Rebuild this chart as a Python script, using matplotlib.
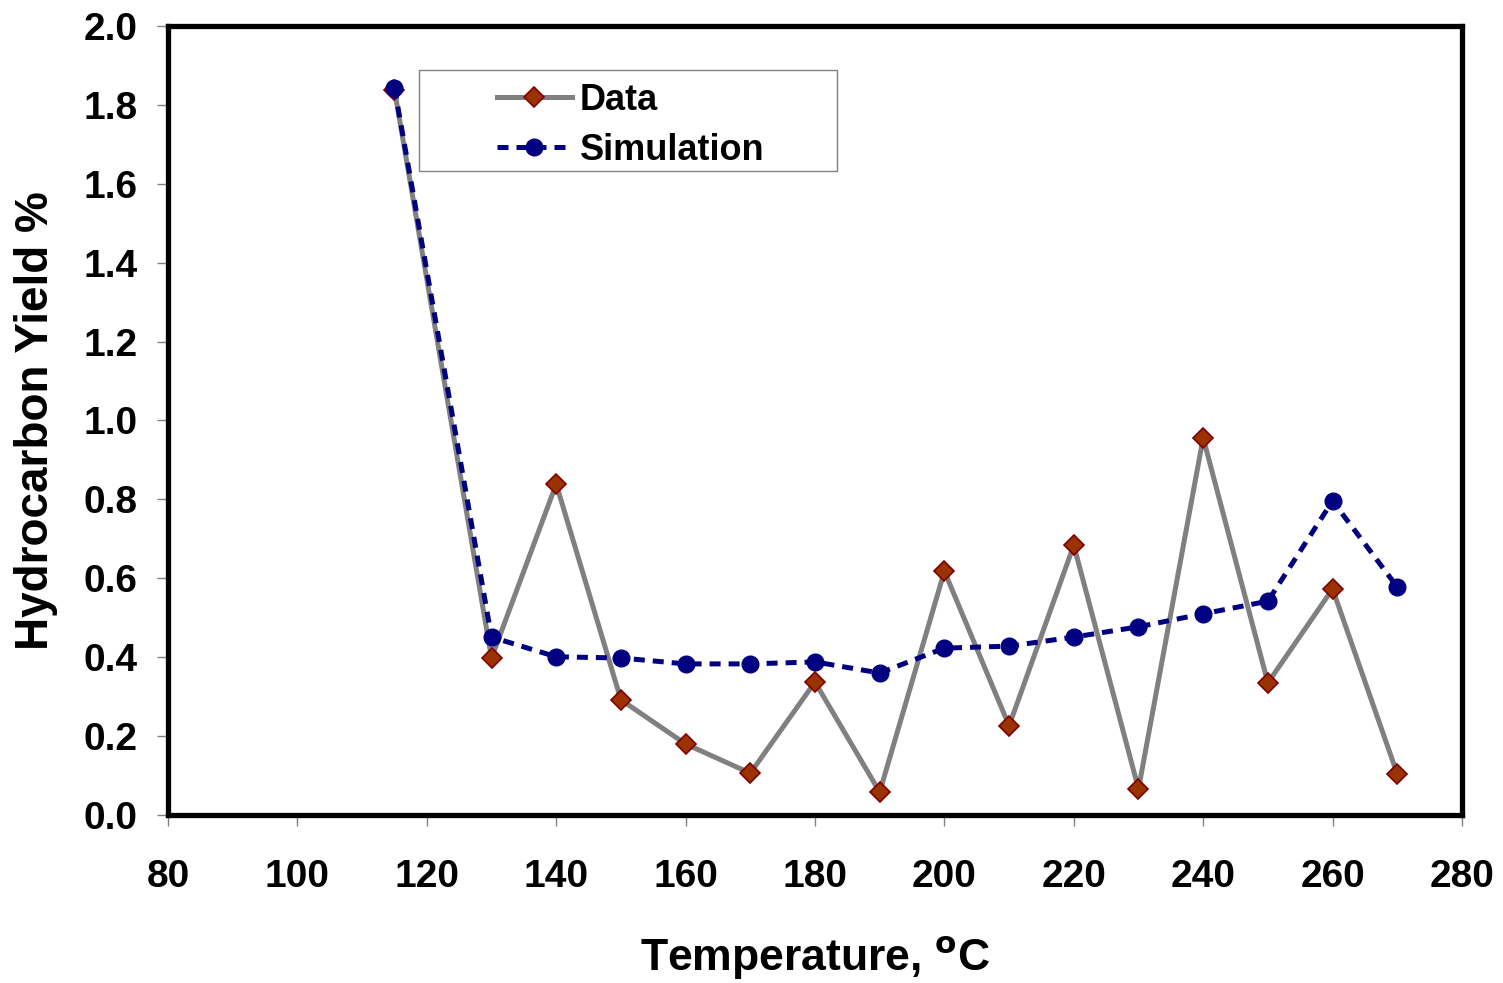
import matplotlib
matplotlib.use("Agg")
import matplotlib.pyplot as plt
from matplotlib.patches import Rectangle

plt.rcParams["font.family"] = ["Liberation Sans", "DejaVu Sans"]
plt.rcParams["font.weight"] = "bold"

# 온도 (°C)
temperature = [115, 130, 140, 150, 160, 170, 180, 190, 200, 210, 220, 230, 240, 250, 260, 270]
# 실측 수율 (%)
data_yield = [1.838, 0.398, 0.839, 0.292, 0.180, 0.106, 0.337, 0.058, 0.618, 0.226,
              0.684, 0.066, 0.956, 0.335, 0.573, 0.104]
# 시뮬레이션 수율 (%)
sim_yield = [1.843, 0.451, 0.401, 0.398, 0.383, 0.383, 0.388, 0.360, 0.423, 0.428,
             0.451, 0.477, 0.510, 0.542, 0.796, 0.578]

x_ticks = [80, 100, 120, 140, 160, 180, 200, 220, 240, 260, 280]
y_ticks = [0.0, 0.2, 0.4, 0.6, 0.8, 1.0, 1.2, 1.4, 1.6, 1.8, 2.0]

fig = plt.figure(figsize=(15.03, 9.83), dpi=100)
ax = fig.add_axes([0.1118, 0.1709, 0.8609, 0.8027])

ax.plot(temperature, data_yield, color="#808080", linewidth=3.6,
        marker="D", markersize=10.5, markerfacecolor="#993300",
        markeredgecolor="#800000", markeredgewidth=1.2, label="Data", zorder=3)
ax.plot(temperature, sim_yield, color="#000080", linewidth=3.6,
        linestyle=(0, (2.2, 1.6)), marker="o", markersize=12,
        markerfacecolor="#000080", markeredgecolor="#000080",
        label="Simulation", zorder=4)

ax.set_xlim(80, 280)
ax.set_ylim(0, 2.0)
ax.set_xticks(x_ticks)
ax.set_yticks(y_ticks)
ax.set_yticklabels([f"{v:.1f}" for v in y_ticks])

for s in ax.spines.values():
    s.set_linewidth(3.8)
    s.set_color("black")

ax.tick_params(axis="both", direction="out", length=8, width=1.0, color="#808080",
               labelsize=28)
ax.tick_params(axis="x", pad=24)
ax.tick_params(axis="y", pad=14)
for lbl in ax.get_xticklabels() + ax.get_yticklabels():
    lbl.set_fontweight("bold")

ax.set_xlabel("Temperature, $^{\\mathbf{o}}$C", fontsize=32, fontweight="bold", labelpad=28)
ax.set_ylabel("Hydrocarbon Yield %", fontsize=33, fontweight="bold", labelpad=18)

# 범례 테두리 (수동)
ax.add_patch(Rectangle((0.194, 0.816), 0.323, 0.128, transform=ax.transAxes,
                       facecolor="white", edgecolor="#808080", linewidth=1.0, zorder=5))
leg = ax.legend(loc="upper left", bbox_to_anchor=(0.254, 0.928),
                frameon=False, handlelength=2.08, handletextpad=0.22,
                borderpad=0, labelspacing=0.42, borderaxespad=0,
                prop={"weight": "bold", "size": 26})
leg.set_zorder(6)

fig.savefig("out.png", dpi=100)
